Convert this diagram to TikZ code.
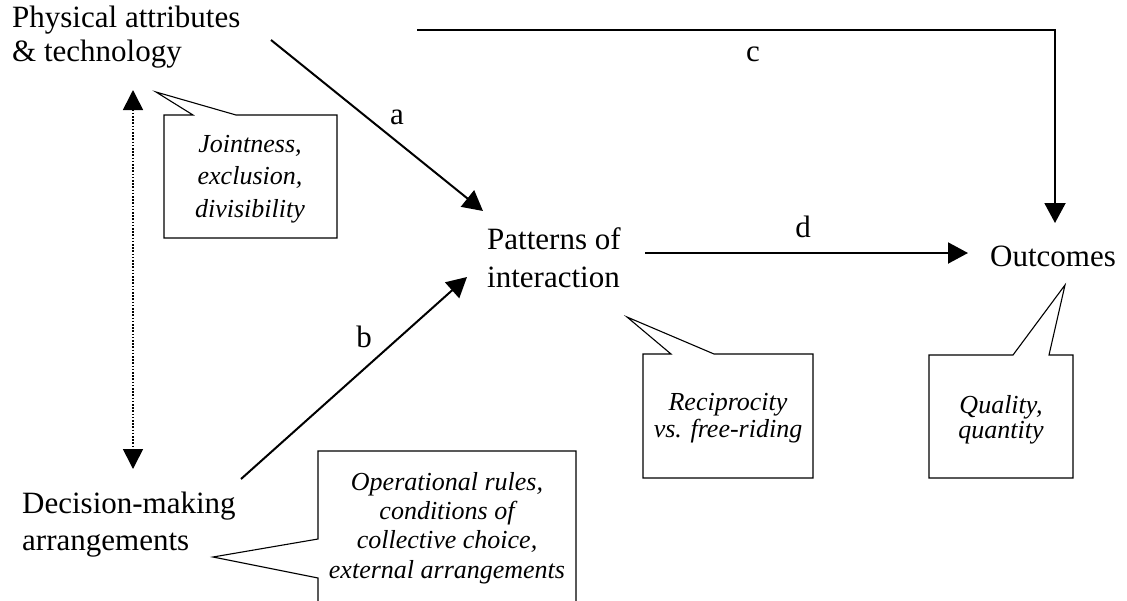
\documentclass[tikz,border=0pt]{standalone}
\usepackage{fontspec}
\setmainfont{Liberation Serif}
\usetikzlibrary{arrows.meta}
\begin{document}
\begin{tikzpicture}[x=1pt,y=-1pt,
  concept/.style={inner sep=0pt, font=\fontsize{31}{#1}\selectfont, align=left},
  concept/.default=34,
  tag/.style={inner sep=0pt, font=\fontsize{31}{34}\selectfont},
  note/.style={inner sep=0pt, align=center, font=\fontsize{26}{#1}\selectfont\itshape},
  flow/.style={line width=2pt, line join=miter, -{Triangle[length=20pt,width=21pt]}},
  link/.style={line width=1.6pt, dash pattern=on 1.6pt off 1.6pt,
    {Triangle[length=20pt,width=20pt]}-{Triangle[length=20pt,width=20pt]}},
  balloon/.style={line width=1.1pt, line join=miter, fill=white},
]
\path[use as bounding box] (0,0) rectangle (1127,600);
\clip (0,0) rectangle (1127,600);

% speech balloons
\draw[balloon] (164,115) -- (193,115) -- (156,92) -- (236,115) -- (337,115)
  -- (337,238) -- (164,238) -- cycle;
\draw[balloon] (318,620) -- (318,578) -- (213,557) -- (318,539) -- (318,451)
  -- (576,451) -- (576,620) -- cycle;
\draw[balloon] (643,354) -- (671,354) -- (627,317) -- (714,354) -- (813,354)
  -- (813,478) -- (643,478) -- cycle;
\draw[balloon] (929,355) -- (1013,355) -- (1065,285) -- (1049,355) -- (1073,355)
  -- (1073,478) -- (929,478) -- cycle;

% balloon texts (anchored on the baseline of their last line)
\node[note=32.5, anchor=base] (joint) at (250,217) {Jointness,\\exclusion,\\divisibility};
\node[note=29.3, anchor=base] (rules) at (447,578) {Operational rules,\\conditions of\\collective choice,\\external arrangements};
\node[note=27, anchor=base] (recip) at (728,437) {Reciprocity\\vs. free-riding};
\node[note=25, anchor=base] (qual) at (1001,438) {Quality,\\quantity};

% main concepts
\node[concept, anchor=base west] (phys) at (12,61) {Physical attributes\\\& technology};
\node[concept=37, anchor=base west] (dec) at (22,550) {Decision-making\\arrangements};
\node[concept=38, anchor=base west] (pat) at (487,287) {Patterns of\\interaction};
\node[concept, anchor=base west] (out) at (990,266) {Outcomes};

% connector end points
\coordinate (a0) at (271,40);
\coordinate (a1) at (483,211);
\coordinate (b0) at (241,479);
\coordinate (b1) at (467,277);
\coordinate (c0) at (417,30);
\coordinate (c1) at (1055,223);
\coordinate (d0) at (645,253);
\coordinate (d1) at (968,253);
\coordinate (l0) at (133,90);
\coordinate (l1) at (133,469);

% connectors
\draw[flow] (a0) -- (a1);
\draw[flow] (b0) -- (b1);
\draw[flow] (c0) -| (c1);
\draw[flow] (d0) -- (d1);
\draw[link] (l0) -- (l1);

% connector letters
\node[tag, anchor=base] (ta) at (397,124) {a};
\node[tag, anchor=base] (tb) at (364,347) {b};
\node[tag, anchor=base] (tc) at (753,61) {c};
\node[tag, anchor=base] (td) at (803,237) {d};
\end{tikzpicture}
\end{document}
